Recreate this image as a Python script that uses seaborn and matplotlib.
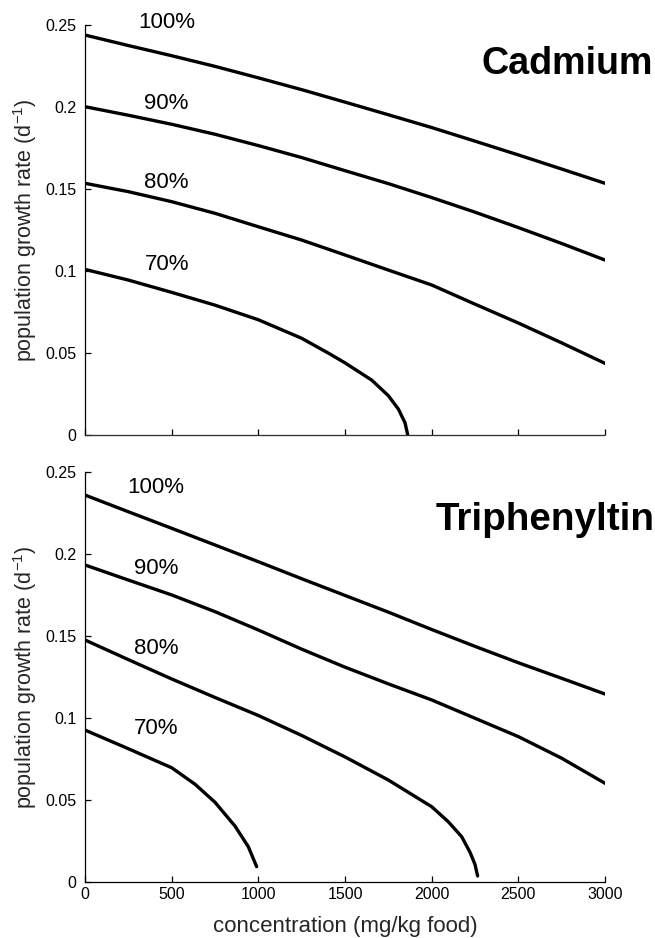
import numpy as np
import pandas as pd
import matplotlib
matplotlib.use("Agg")
import matplotlib.pyplot as plt
import seaborn as sns

# ---- data ----
cd_x100 = [0, 250, 500, 750, 1000, 1250, 1500, 1750, 2000, 2250, 2500, 2750, 3000]
cd_y100 = [0.2439, 0.2375, 0.2313, 0.2248, 0.2178, 0.2106, 0.2030, 0.1953, 0.1875, 0.1792, 0.1708, 0.1622, 0.1535]
cd_x90 = [0, 250, 500, 750, 1000, 1250, 1500, 1750, 2000, 2250, 2500, 2750, 3000]
cd_y90 = [0.2002, 0.1950, 0.1895, 0.1834, 0.1765, 0.1692, 0.1612, 0.1533, 0.1448, 0.1359, 0.1265, 0.1168, 0.1067]
cd_x80 = [0, 250, 500, 750, 1000, 1250, 1500, 1750, 2000, 2250, 2500, 2750, 3000]
cd_y80 = [0.1535, 0.1484, 0.1423, 0.1352, 0.1270, 0.1189, 0.1098, 0.1006, 0.0915, 0.0798, 0.0683, 0.0562, 0.0437]
cd_x70 = [0, 250, 500, 750, 1000, 1250, 1413, 1500, 1654, 1750, 1808, 1846, 1862]
cd_y70 = [0.1010, 0.0945, 0.0870, 0.0792, 0.0703, 0.0590, 0.0494, 0.0440, 0.0335, 0.0240, 0.0158, 0.0075, 0.0]

tp_x100 = [0, 250, 500, 750, 1000, 1250, 1500, 1750, 2000, 2250, 2500, 2750, 3000]
tp_y100 = [0.2361, 0.2259, 0.2158, 0.2056, 0.1954, 0.1850, 0.1748, 0.1646, 0.1540, 0.1437, 0.1337, 0.1242, 0.1146]
tp_x90 = [0, 250, 500, 750, 1000, 1250, 1500, 1750, 2000, 2250, 2500, 2750, 3000]
tp_y90 = [0.1934, 0.1842, 0.1751, 0.1649, 0.1537, 0.1420, 0.1310, 0.1208, 0.1110, 0.0998, 0.0886, 0.0754, 0.0601]
tp_x80 = [0, 250, 500, 750, 1000, 1250, 1500, 1750, 2000, 2096, 2173, 2221, 2250, 2265]
tp_y80 = [0.1476, 0.1356, 0.1238, 0.1125, 0.1015, 0.0893, 0.0762, 0.0621, 0.0458, 0.0366, 0.0275, 0.0180, 0.0105, 0.0035]
tp_x70 = [0, 250, 500, 635, 750, 865, 942, 990]
tp_y70 = [0.0926, 0.0812, 0.0696, 0.0595, 0.0485, 0.0340, 0.0214, 0.0092]

levels = ["100%", "90%", "80%", "70%"]
cd_label_y = [0.2516, 0.2022, 0.1538, 0.1041]
tp_label_y = [0.2406, 0.1914, 0.1421, 0.0937]
label_x = [471, 409]

titles = ["Cadmium", "Triphenyltin"]
x_ticks = [0, 500, 1000, 1500, 2000, 2500, 3000]
y_ticks = [0, 0.05, 0.1, 0.15, 0.2, 0.25]
y_tick_labels = ["0", "0.05", "0.1", "0.15", "0.2", "0.25"]

sns.set_theme(style="white")
plt.rcParams["font.family"] = ["Liberation Sans", "DejaVu Sans"]
plt.rcParams["mathtext.fontset"] = "custom"
plt.rcParams["mathtext.rm"] = "Liberation Sans"

def build(curves):
    frames = []
    for name, (xs, ys) in zip(levels, curves):
        frames.append(pd.DataFrame({"conc": xs, "rate": ys, "level": name}))
    return pd.concat(frames, ignore_index=True)

cd_df = build([(cd_x100, cd_y100), (cd_x90, cd_y90), (cd_x80, cd_y80), (cd_x70, cd_y70)])
tp_df = build([(tp_x100, tp_y100), (tp_x90, tp_y90), (tp_x80, tp_y80), (tp_x70, tp_y70)])

fig = plt.figure(figsize=(6.55, 9.38), dpi=100)
ax1 = fig.add_axes([0.1298, 0.5362, 0.7939, 0.4371])
ax2 = fig.add_axes([0.1298, 0.0600, 0.7939, 0.4365])

for ax, df, lab_y, lx in [(ax1, cd_df, cd_label_y, label_x[0]),
                          (ax2, tp_df, tp_label_y, label_x[1])]:
    for name in levels:
        sub = df[df["level"] == name]
        sns.lineplot(data=sub, x="conc", y="rate", ax=ax, color="black",
                     linewidth=2.4, sort=False, estimator=None, legend=False)
    for name, yy in zip(levels, lab_y):
        ax.text(lx, yy, name, ha="center", va="center", fontsize=16,
                color="black", clip_on=False)
    ax.set_xlim(0, 3000)
    ax.set_ylim(0, 0.25)
    ax.set_xticks(x_ticks)
    ax.set_yticks(y_ticks)
    ax.set_yticklabels(y_tick_labels)
    ax.tick_params(axis="both", direction="in", length=4.5, width=0.9,
                   colors="black", labelsize=11.5, pad=4,
                   bottom=True, left=True)
    ax.tick_params(axis="y", pad=6)
    sns.despine(ax=ax)
    ax.spines["left"].set_color("black")
    ax.spines["left"].set_linewidth(0.9)
    ax.spines["bottom"].set_color("black")
    ax.spines["bottom"].set_linewidth(0.9)
    ax.set_ylabel("population growth rate (d$\\mathregular{^{-1}}$)", fontsize=15.5, labelpad=5)
    ax.set_xlabel("")
    ax.grid(False)

# top panel: dotted baseline, no x labels
ax1.spines["bottom"].set_linestyle((0, (1, 0.6)))
ax1.spines["bottom"].set_color("#333333")
ax1.set_xticklabels([])

fig.text(0.866, 0.932, titles[0], ha="center", va="center",
         fontsize=27.2, fontweight="bold", color="black")
fig.text(0.832, 0.446, titles[1], ha="center", va="center",
         fontsize=27.8, fontweight="bold", color="black")

ax2.set_xlabel("concentration (mg/kg food)", fontsize=16, labelpad=10)

fig.savefig("out.png", dpi=100)
